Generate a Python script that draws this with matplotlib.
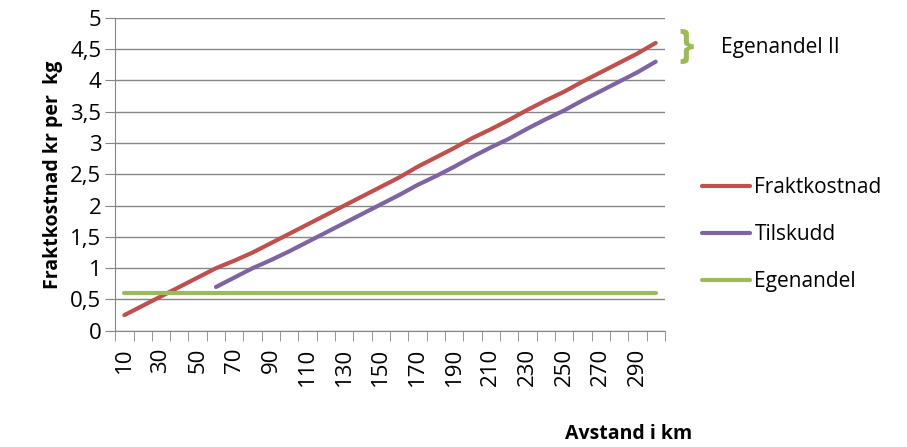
import matplotlib
matplotlib.use("Agg")
import matplotlib.pyplot as plt
import numpy as np

# avstand i km (kategorier)
avstand = [10, 20, 30, 40, 50, 60, 70, 80, 90, 100, 110, 120, 130, 140, 150,
           160, 170, 180, 190, 200, 210, 220, 230, 240, 250, 260, 270, 280, 290, 300]
fraktkostnad = [0.25, 0.40, 0.55, 0.70, 0.85, 1.00, 1.12, 1.25, 1.40, 1.55,
                1.70, 1.85, 2.00, 2.15, 2.30, 2.45, 2.62, 2.77, 2.92, 3.08,
                3.22, 3.37, 3.53, 3.68, 3.82, 3.98, 4.13, 4.28, 4.43, 4.60]
tilskudd = [None, None, None, None, None, 0.70, 0.85, 1.00, 1.13, 1.27,
            1.42, 1.57, 1.72, 1.87, 2.02, 2.17, 2.33, 2.47, 2.62, 2.78,
            2.93, 3.07, 3.23, 3.38, 3.52, 3.68, 3.83, 3.98, 4.13, 4.30]
egenandel = [0.6] * 30

RED = "#c0504d"
PURPLE = "#8064a2"
GREEN = "#9bbb59"

plt.rcParams["font.family"] = ["Open Sans", "DejaVu Sans"]

fig = plt.figure(figsize=(9.07, 4.47), dpi=100)
ax = fig.add_axes([0.127, 0.26, 0.606, 0.70])

x = np.arange(len(avstand))
tk = np.array([np.nan if v is None else v for v in tilskudd])
ax.plot(x, fraktkostnad, color=RED, lw=3, solid_capstyle="round", label="Fraktkostnad")
ax.plot(x, tk, color=PURPLE, lw=3, solid_capstyle="round", label="Tilskudd")
ax.plot(x, egenandel, color=GREEN, lw=3, solid_capstyle="round", label="Egenandel")

ax.set_xlim(-0.5, len(avstand) - 0.5)
ax.set_ylim(0, 5)
yt = np.arange(0, 5.01, 0.5)
ax.set_yticks(yt)
ax.set_yticklabels([f"{v:g}".replace(".", ",") for v in yt], fontsize=16)
ax.tick_params(axis="y", length=7, color="#868686", pad=3)
ax.grid(axis="y", color="#868686", lw=1)
ax.set_axisbelow(True)

ax.set_xticks(x[::2])
ax.set_xticklabels([str(a) for a in avstand[::2]], rotation=90, fontsize=16)
ax.set_xticks(np.arange(-0.5, len(avstand)), minor=True)
ax.tick_params(axis="x", which="major", length=0, pad=12)
ax.tick_params(axis="x", which="minor", length=7, color="#868686")

for s in ["top", "right"]:
    ax.spines[s].set_visible(False)
for s in ["left", "bottom"]:
    ax.spines[s].set_color("#868686")

ax.set_ylabel("Fraktkostnad kr per  kg", fontsize=14, fontweight="bold", labelpad=5)
fig.text(0.763, 0.03, "Avstand i km", fontsize=14, fontweight="bold", ha="right", va="center")

ax.legend(loc="center left", bbox_to_anchor=(1.0, 0.307), frameon=False, fontsize=15,
          handlelength=2.3, labelspacing=1.25, handletextpad=0.2, borderaxespad=1.4)

fig.text(0.748, 0.895, "}", color=GREEN, fontsize=28, fontweight="bold", va="center", ha="left")
fig.text(0.795, 0.893, "Egenandel II", fontsize=15, va="center", ha="left")

fig.savefig("out.png", dpi=100)
